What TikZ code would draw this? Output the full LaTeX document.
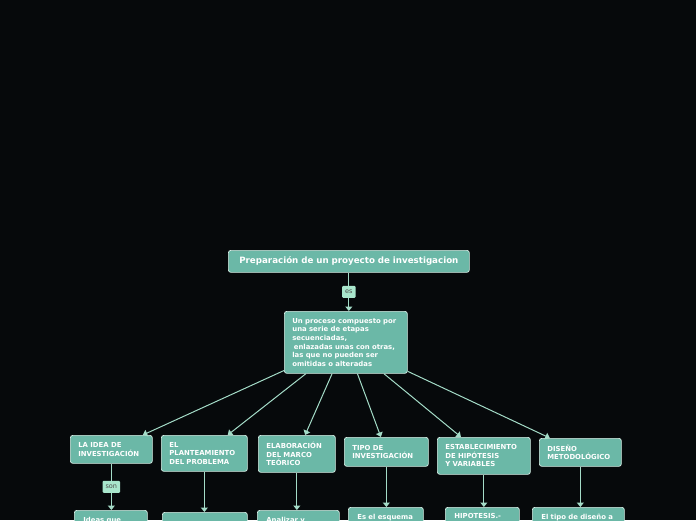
\documentclass[tikz,border=0pt]{standalone}
\usepackage{fontspec}
\setmainfont{DejaVu Sans}
\usetikzlibrary{arrows.meta}
\definecolor{bg}{HTML}{06090B}
\definecolor{boxc}{HTML}{6BB8A7}
\definecolor{edgec}{HTML}{D6EEE6}
\definecolor{linec}{HTML}{A4DCC8}
\definecolor{lblc}{HTML}{A8E6CC}
\begin{document}
\begin{tikzpicture}[x=1pt,y=-1pt,
  box/.style={draw=edgec, fill=boxc, rounded corners=2.5pt, line width=0.7pt, text=white,
    font=\bfseries\fontsize{6.9}{8.6}\selectfont, align=left, inner xsep=8pt, inner ysep=0pt, anchor=north west},
  gbox/.style={box, inner ysep=6.5pt, inner xsep=9pt},
  conn/.style={draw=linec, line width=1pt, -{Triangle[width=7pt,length=4.5pt]}},
  lbl/.style={fill=lblc, draw=none, font=\fontsize{6.5}{7}\selectfont, text=black!70, minimum height=12pt, inner xsep=3pt, inner ysep=0pt, rounded corners=1pt}
]
\fill[bg] (0,0) rectangle (696,520);
\clip (0,0) rectangle (696,520);

% title
\node[box, align=center, font=\bfseries\fontsize{8.7}{10}\selectfont, minimum width=241pt, minimum height=22pt, text width=225pt] (t) at (228,250) {Preparación de un proyecto de investigacion};

% central
\node[box, minimum width=123pt, minimum height=62pt, text width=107pt] (c) at (284,311)
 {Un proceso compuesto por\\una serie de etapas\\secuenciadas,\\\hspace{1.5pt}enlazadas unas con otras,\\las que no pueden ser\\omitidas o alteradas};

% children
\node[box, minimum width=82pt, minimum height=28pt, text width=66pt] (k1) at (70,435) {LA IDEA DE\\INVESTIGACIÓN};
\node[box, minimum width=86pt, minimum height=36pt, text width=70pt] (k2) at (161,435) {EL\\PLANTEAMIENTO\\DEL PROBLEMA};
\node[box, minimum width=77pt, minimum height=37pt, text width=61pt] (k3) at (258,435) {ELABORACIÓN\\DEL MARCO\\TEÓRICO};
\node[box, minimum width=84pt, minimum height=29pt, text width=68pt] (k4) at (344,437) {TIPO DE\\INVESTIGACIÓN};
\node[box, minimum width=93pt, minimum height=37pt, text width=77pt] (k5) at (437,437) {ESTABLECIMIENTO\\DE HIPÓTESIS\\Y VARIABLES};
\node[box, minimum width=82pt, minimum height=28pt, text width=66pt] (k6) at (539,438) {DISEÑO\\METODOLÓGICO};

% grandchildren
\node[gbox, minimum width=73pt, text width=55pt] (g1) at (74,510) {Ideas que};
\node[gbox, minimum width=85pt, minimum height=20pt, text width=67pt] (g2) at (162,512) {};
\node[gbox, minimum width=82pt, text width=64pt] (g3) at (257,510) {Analizar y};
\node[gbox, minimum width=75pt, text width=57pt] (g4) at (348,507) {Es el esquema};
\node[gbox, minimum width=74pt, text width=56pt] (g5) at (445,507) {HIPOTESIS.-};
\node[gbox, minimum width=92pt, text width=74pt] (g6) at (532,507) {El tipo de diseño a};

% connectors
\draw[conn] (t.south) -- node[lbl] (es) {es} (t.south |- c.north);
\foreach \k in {k1,k2,k3,k4,k5,k6} \draw[conn] (c) -- (\k);
\draw[conn] (k1.south) -- node[lbl] (son) {son} (k1.south |- g1.north);
\draw[conn] (k2.south) -- (k2.south |- g2.north);
\draw[conn] (k3.south) -- (k3.south |- g3.north);
\draw[conn] (k4.south) -- (k4.south |- g4.north);
\draw[conn] (k5.south) -- (k5.south |- g5.north);
\draw[conn] (k6.south) -- (k6.south |- g6.north);
\end{tikzpicture}
\end{document}
